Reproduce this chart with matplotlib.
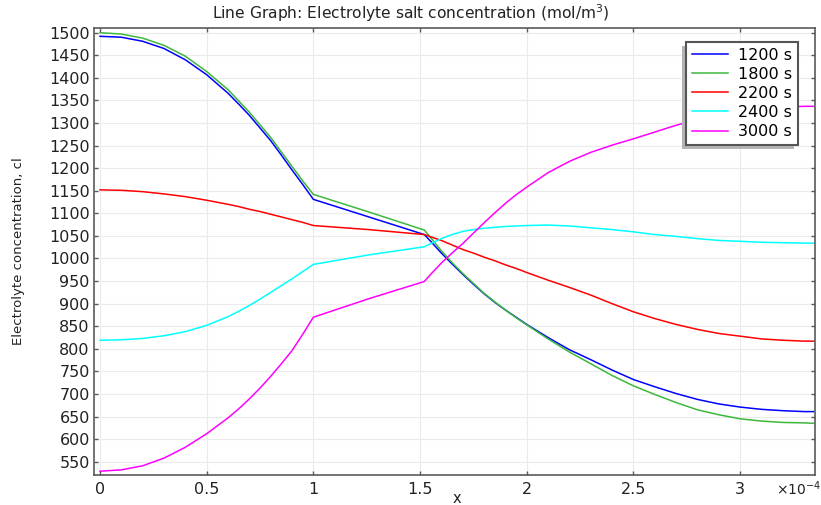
import matplotlib
matplotlib.use("Agg")
import matplotlib.pyplot as plt
from matplotlib.patches import Rectangle
from matplotlib.ticker import FuncFormatter, MultipleLocator

# arc length along the cell (units of 1e-4 m)
x = [0.0, 0.1, 0.2, 0.3, 0.4, 0.5, 0.6, 0.65, 0.7, 0.75, 0.8, 0.85, 0.9, 0.95,
     1.0, 1.26, 1.52, 1.55, 1.6, 1.65, 1.7, 1.75, 1.8, 1.85, 1.9, 1.95,
     2.0, 2.1, 2.2, 2.3, 2.4, 2.5, 2.6, 2.7, 2.8, 2.9, 3.0, 3.1, 3.2, 3.3, 3.345]

c_1200 = [1492, 1490, 1481, 1465, 1440, 1407, 1366, 1342, 1317, 1289, 1261, 1229, 1196, 1164,
          1131, 1092, 1053, 1038, 1012, 988, 965, 943, 922, 903, 886, 870,
          854, 825, 798, 776, 753, 732, 716, 701, 688, 678, 671, 666, 663, 661, 661]
c_1800 = [1500, 1497, 1488, 1472, 1448, 1414, 1374, 1349, 1324, 1296, 1268, 1236, 1204, 1172,
          1142, 1103, 1063, 1046, 1017, 991, 967, 945, 923, 904, 886, 869,
          853, 822, 793, 767, 741, 718, 699, 681, 665, 654, 645, 640, 637, 636, 635]
c_2200 = [1152, 1151, 1148, 1143, 1137, 1129, 1120, 1115, 1109, 1104, 1098, 1092, 1086, 1080,
          1073, 1064, 1053, 1048, 1040, 1030, 1020, 1012, 1003, 995, 986, 978,
          969, 952, 936, 919, 900, 882, 867, 854, 843, 834, 828, 822, 819, 817, 817]
c_2400 = [819, 820, 823, 829, 838, 852, 871, 883, 896, 910, 925, 940, 955, 971,
          987, 1008, 1026, 1033, 1044, 1053, 1060, 1064, 1067, 1069, 1071, 1072,
          1073, 1074, 1072, 1068, 1064, 1059, 1053, 1049, 1044, 1040, 1038, 1036, 1035, 1034, 1034]
c_3000 = [529, 532, 541, 558, 582, 612, 647, 667, 689, 713, 739, 767, 796, 832,
          870, 911, 949, 965, 990, 1012, 1033, 1056, 1079, 1101, 1122, 1141,
          1158, 1190, 1215, 1235, 1251, 1265, 1280, 1295, 1308, 1318, 1326, 1331, 1335, 1337, 1337]

labels = ["1200 s", "1800 s", "2200 s", "2400 s", "3000 s"]
colors = ["#0000ff", "#3cb83c", "#ff0000", "#00ffff", "#ff00ff"]

fig = plt.figure(figsize=(8.21, 5.05), dpi=100)
ax = fig.add_axes([94 / 821, 1 - 475 / 505, 721 / 821, 447 / 505])

for series, label, color in zip([c_1200, c_1800, c_2200, c_2400, c_3000], labels, colors):
    ax.plot(x, series, color=color, lw=1.1, label=label)

ax.set_xlim(-0.028, 3.351)
ax.set_ylim(520.6, 1510.4)
ax.xaxis.set_major_locator(MultipleLocator(0.5))
ax.yaxis.set_major_locator(MultipleLocator(50))
ax.xaxis.set_major_formatter(FuncFormatter(lambda v, p: "%g" % v))

ax.grid(True, color="#ebebeb", lw=0.8)
ax.set_axisbelow(True)
for s in ax.spines.values():
    s.set_color("#5a5a5a")
    s.set_linewidth(1.2)
ax.tick_params(direction="in", length=3, width=1, color="#5a5a5a",
               top=True, right=True, labelsize=11.5, labelcolor="#222222")
ax.tick_params(axis="x", pad=5)
ax.tick_params(axis="y", pad=3)

# title sits centred on the whole figure, not on the axes
fig.text(0.5, 1 - 13 / 505, "Line Graph: Electrolyte salt concentration (mol/m$^3$)",
         fontsize=11.2, color="#222222", ha="center", va="center")
ax.set_xlabel("x", fontsize=10.5, color="#222222")
ax.xaxis.set_label_coords(0.5035, -0.036)
ax.set_ylabel("Electrolyte concentration, cl", fontsize=9.5, color="#222222", va="center")
ax.yaxis.set_label_coords(-0.105, 0.501)
fig.text(776 / 821, 1 - 489 / 505, "×10$^{-4}$", fontsize=10, color="#222222",
         va="center", ha="left")

leg = ax.legend(loc="upper left", bbox_to_anchor=(0.821, 0.9687), fontsize=11.5,
                fancybox=False, framealpha=1, edgecolor="#555555",
                handlelength=2.3, handletextpad=0.6, labelspacing=0.26,
                borderpad=0.35, borderaxespad=0)
leg.get_frame().set_linewidth(1.5)
leg.set_zorder(5)

# grey drop shadow down and to the left of the legend box
fig.canvas.draw()
bb = leg.get_window_extent()
shadow = Rectangle((bb.x0 - 4, bb.y0 - 4), bb.width, bb.height, transform=None,
                   facecolor="#b4b4b4", edgecolor="none", zorder=4)
ax.add_artist(shadow)

fig.savefig("out.png", dpi=100)
